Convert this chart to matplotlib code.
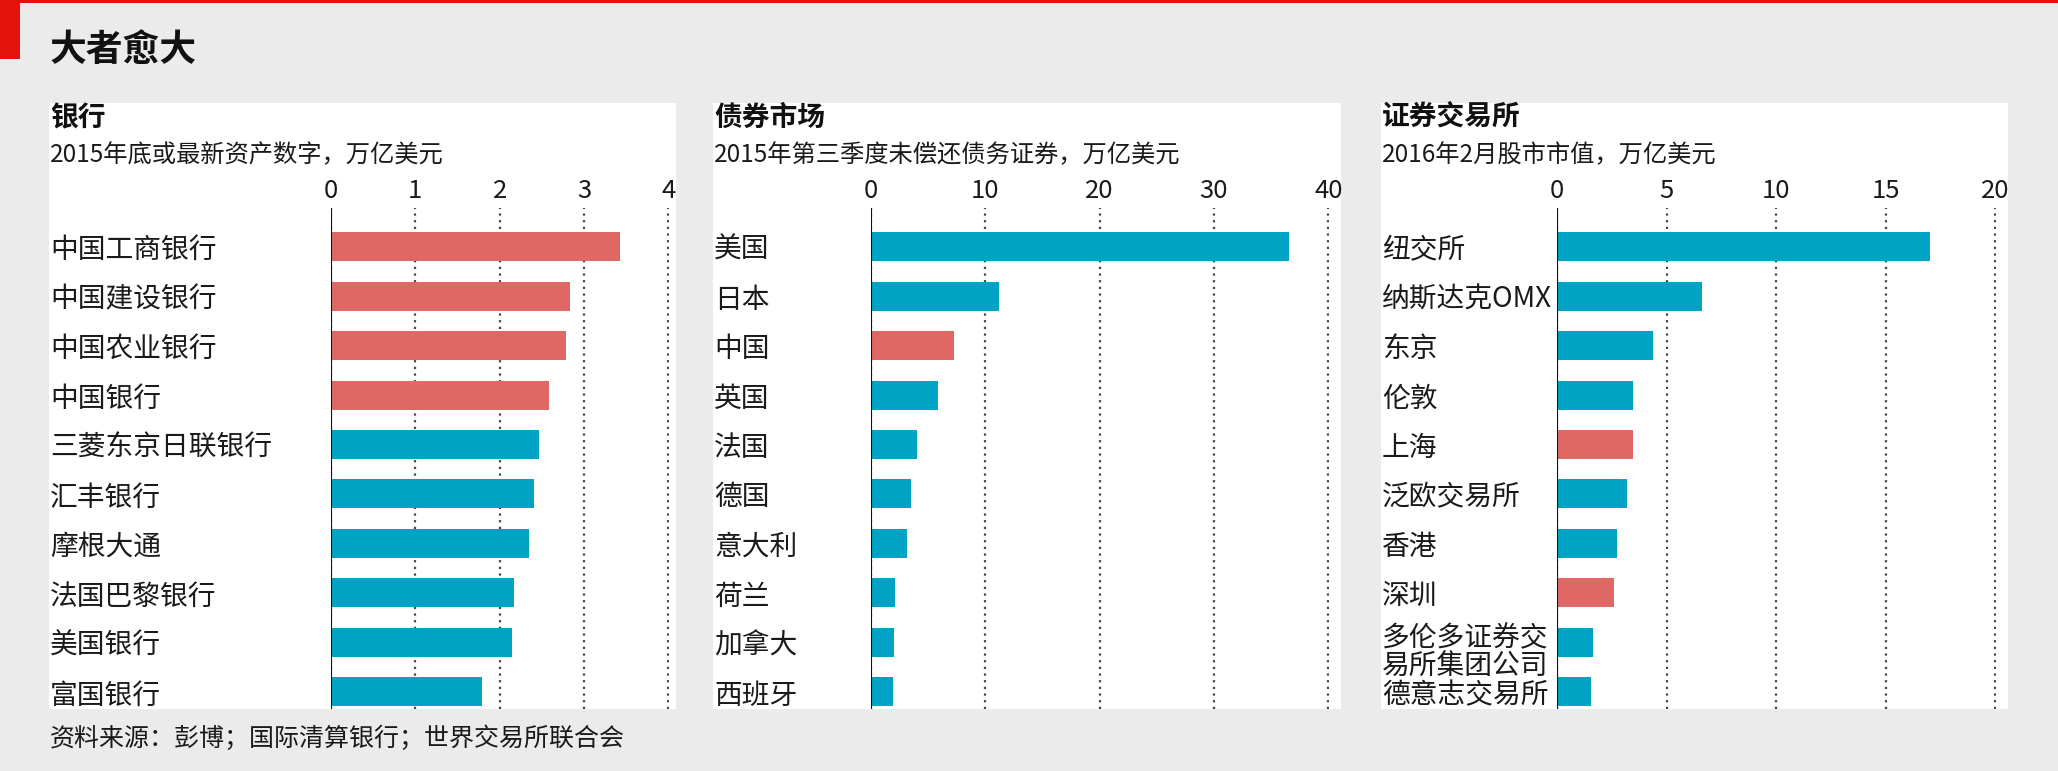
import matplotlib
matplotlib.use("Agg")
import matplotlib.pyplot as plt
import matplotlib.transforms as mtransforms
from matplotlib.patches import Rectangle

plt.rcParams['font.family'] = ['Noto Sans CJK SC', 'DejaVu Sans']

# ---------------- data ----------------
title = "大者愈大"
source = "资料来源：彭博；国际清算银行；世界交易所联合会"

bank_title = "银行"
bank_sub = "2015年底或最新资产数字，万亿美元"
banks = ['中国工商银行', '中国建设银行', '中国农业银行', '中国银行', '三菱东京日联银行',
         '汇丰银行', '摩根大通', '法国巴黎银行', '美国银行', '富国银行']
bank_vals = [3.42, 2.83, 2.78, 2.58, 2.46, 2.41, 2.35, 2.17, 2.14, 1.79]
bank_china = [True, True, True, True, False, False, False, False, False, False]
bank_ticks = [0, 1, 2, 3, 4]

bond_title = "债券市场"
bond_sub = "2015年第三季度未偿还债务证券，万亿美元"
bonds = ['美国', '日本', '中国', '英国', '法国', '德国', '意大利', '荷兰', '加拿大', '西班牙']
bond_vals = [36.6, 11.2, 7.25, 5.9, 4.05, 3.5, 3.15, 2.1, 2.0, 1.9]
bond_china = [False, False, True, False, False, False, False, False, False, False]
bond_ticks = [0, 10, 20, 30, 40]

ex_title = "证券交易所"
ex_sub = "2016年2月股市市值，万亿美元"
exchanges = ['纽交所', '纳斯达克OMX', '东京', '伦敦', '上海', '泛欧交易所', '香港', '深圳',
             '多伦多证券交\n易所集团公司', '德意志交易所']
ex_vals = [17.0, 6.62, 4.37, 3.45, 3.47, 3.2, 2.75, 2.61, 1.62, 1.56]
ex_china = [False, False, False, False, True, False, False, True, False, False]
ex_ticks = [0, 5, 10, 15, 20]

# ---------------- style ----------------
W, H = 2058, 771
BG = '#ebebeb'
RED = '#e06864'
BLUE = '#00a3c4'
ECON_RED = '#e3120b'
TXT = '#1a1a1a'

fig = plt.figure(figsize=(W / 100, H / 100), dpi=100, facecolor=BG)


def fx(x):
    return x / W


def fy(y):
    return 1 - y / H


# red header accents
fig.patches.append(Rectangle((0, fy(3)), 1, 3 / H, transform=fig.transFigure,
                             facecolor=ECON_RED, edgecolor='none', zorder=-2))
fig.patches.append(Rectangle((0, fy(59)), fx(20), 59 / H, transform=fig.transFigure,
                             facecolor=ECON_RED, edgecolor='none', zorder=-2))

fig.text(fx(50), fy(50), title, fontsize=26.5, fontweight='bold', color='#111',
         ha='left', va='center')
fig.text(fx(50), fy(739), source, fontsize=18, color=TXT, ha='left', va='center')

panels = [
    (bank_title, bank_sub, banks, bank_vals, bank_china, bank_ticks, 49, 676, 331, 669),
    (bond_title, bond_sub, bonds, bond_vals, bond_china, bond_ticks, 713, 1341, 871, 1329),
    (ex_title, ex_sub, exchanges, ex_vals, ex_china, ex_ticks, 1381, 2008, 1557, 1996),
]

PTOP, PBOT = 103, 709
ATOP = 208
ROW0, ROWD = 246.5, 49.5

for (ptitle, psub, cats, vals, china, ticks, pl, pr, x0, x1) in panels:
    fig.patches.append(Rectangle((fx(pl), fy(PBOT)), fx(pr - pl), (PBOT - PTOP) / H,
                                 transform=fig.transFigure, facecolor='white',
                                 edgecolor='none', zorder=-1))
    fig.text(fx(pl + 1), fy(118), ptitle, fontsize=20, fontweight='bold', color='#111',
             ha='left', va='center')
    fig.text(fx(pl + 1), fy(155), psub, fontsize=17.5, color=TXT, ha='left', va='center')

    ax = fig.add_axes([fx(x0), fy(PBOT), fx(x1 - x0), (PBOT - ATOP) / H])
    ax.set_zorder(2)
    ax.set_facecolor('none')
    n = len(cats)
    ypos = list(range(n))
    colors = [RED if c else BLUE for c in china]
    ax.barh(ypos, vals, height=29 / ROWD, color=colors, zorder=2)
    ax.set_ylim((PBOT - ROW0) / ROWD, (ATOP - ROW0) / ROWD)
    ax.set_xlim(ticks[0], ticks[-1] * 1.0015)
    ax.set_xticks(ticks)
    ax.set_xticklabels([str(t) for t in ticks])
    ax.xaxis.tick_top()
    ax.tick_params(axis='x', length=0, pad=3, labelsize=18.5, labelcolor=TXT)
    ax.grid(axis='x', color='#444444', linestyle=(0, (1, 2)), linewidth=1.6, zorder=1)
    ax.set_axisbelow(True)
    ax.axvline(0, color='#111', linewidth=1.5, zorder=3)
    for s in ax.spines.values():
        s.set_visible(False)
    ax.set_yticks(ypos)
    ax.set_yticklabels(cats)
    pad_pts = (x0 - (pl + 1)) * 72 / 100
    ax.tick_params(axis='y', length=0, pad=pad_pts, labelsize=20, labelcolor=TXT)
    for lab in ax.get_yticklabels():
        lab.set_horizontalalignment('left')
        if '\n' in lab.get_text():
            lab.set_linespacing(0.95)
            lab.set_transform(lab.get_transform() +
                              mtransforms.Affine2D().translate(0, -7))

fig.savefig('out.png', dpi=100, facecolor=BG)
